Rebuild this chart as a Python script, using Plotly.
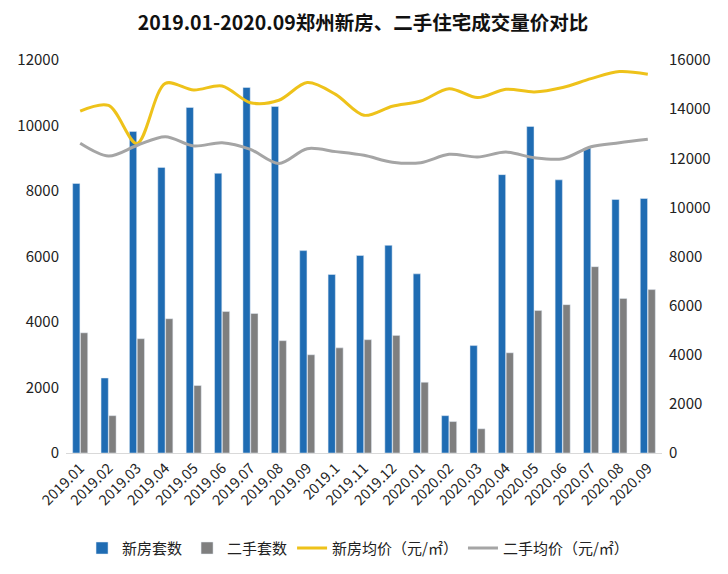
import plotly.graph_objects as go

months = ["2019.01", "2019.02", "2019.03", "2019.04", "2019.05", "2019.06", "2019.07",
          "2019.08", "2019.09", "2019.1", "2019.11", "2019.12", "2020.01", "2020.02",
          "2020.03", "2020.04", "2020.05", "2020.06", "2020.07", "2020.08", "2020.09"]

new_units = [8230, 2290, 9820, 8720, 10550, 8540, 11160, 10580, 6180, 5450, 6030,
             6340, 5470, 1140, 3280, 8500, 9970, 8340, 9310, 7740, 7770]
used_units = [3670, 1140, 3490, 4100, 2060, 4320, 4260, 3430, 3000, 3210, 3460,
              3590, 2160, 960, 740, 3060, 4350, 4530, 5690, 4720, 4990]

new_price = [13920, 14150, 12600, 15050, 14780, 14940, 14260, 14360, 15080, 14600, 13750,
             14120, 14330, 14830, 14470, 14810, 14700, 14880, 15240, 15530, 15420]
used_price = [12610, 12090, 12520, 12880, 12500, 12630, 12360, 11790, 12390, 12270, 12120,
              11840, 11820, 12160, 12050, 12250, 12020, 11980, 12470, 12630, 12770]

font_family = "Noto Sans CJK SC, Microsoft YaHei, sans-serif"

fig = go.Figure()

# bars on the left axis
fig.add_trace(go.Bar(x=months, y=new_units, name="新房套数", marker_color="#1F6CB3"))
fig.add_trace(go.Bar(x=months, y=used_units, name="二手套数", marker_color="#7F7F7F"))

# prices on the right axis
fig.add_trace(go.Scatter(x=months, y=new_price, name="新房均价（元/㎡）", yaxis="y2",
                         mode="lines", line=dict(color="#EEC21A", width=3, shape="spline", smoothing=0.9)))
fig.add_trace(go.Scatter(x=months, y=used_price, name="二手均价（元/㎡）", yaxis="y2",
                         mode="lines", line=dict(color="#A5A5A5", width=3, shape="spline", smoothing=0.9)))

# page body adds ~8px offset, margins compensate for it
fig.update_layout(
    width=728, height=574,
    margin=dict(l=58, r=74, t=52, b=129),
    plot_bgcolor="white", paper_bgcolor="white",
    font=dict(family=font_family, size=14, color="#222222"),
    title=dict(text="<b>2019.01-2020.09郑州新房、二手住宅成交量价对比</b>",
               x=0.4876, xanchor="center", yref="container", y=0.973, yanchor="middle",
               font=dict(size=19.5, color="#111111")),
    barmode="group", bargap=0.45, bargroupgap=0.07,
    xaxis=dict(tickangle=-45, showline=True, linecolor="#D9D9D9", ticks="",
               tickfont=dict(size=14.5), showgrid=False, automargin=False),
    yaxis=dict(range=[0, 12000], dtick=2000, tickformat="d", showgrid=False, zeroline=False,
               tickfont=dict(size=15), ticks="", ticklabelstandoff=6, automargin=False),
    yaxis2=dict(range=[0, 16000], dtick=2000, tickformat="d", overlaying="y", side="right",
                showgrid=False, zeroline=False, tickfont=dict(size=15), ticks="",
                ticklabelstandoff=6, automargin=False),
    legend=dict(orientation="h", x=0.49, xanchor="center", yref="container", y=0.03,
                yanchor="bottom", font=dict(size=15), itemwidth=30, tracegroupgap=0,
                traceorder="normal"),
)

fig.write_html("out.html")
